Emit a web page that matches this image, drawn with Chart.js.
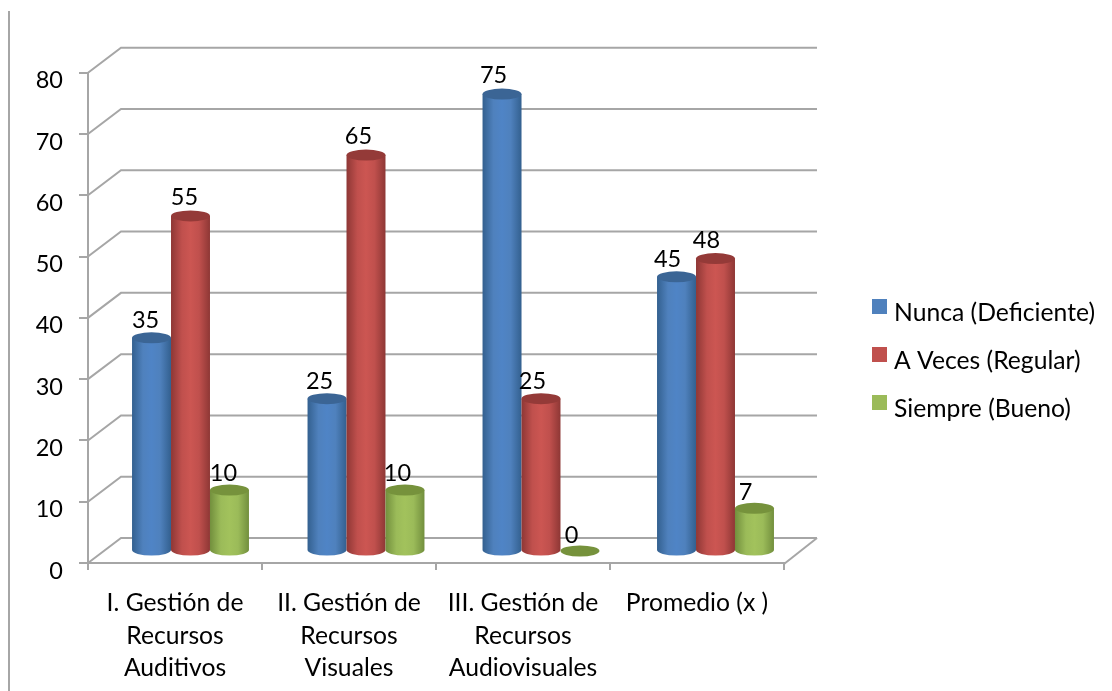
<!DOCTYPE html>
<html>
<head>
<meta charset="utf-8">
<title>Gestión de Recursos</title>
<script src="https://cdn.jsdelivr.net/npm/chart.js@4/dist/chart.umd.js"></script>
<style>
  html, body { margin: 0; padding: 0; background: #fff; }
  canvas { display: block; }
</style>
</head>
<body>
<canvas id="barChart" width="1112" height="691"></canvas>
<script>
const categories = [
  ["I. Gestión de", "Recursos", "Auditivos"],
  ["II. Gestión de", "Recursos", "Visuales"],
  ["III. Gestión de", "Recursos", "Audiovisuales"],
  "Promedio (x )",
];
const seriesNames = ["Nunca (Deficiente)", "A Veces (Regular)", "Siempre (Bueno)"];
const nunca = [35, 25, 75, 45];
const aVeces = [55, 65, 25, 48];
const siempre = [10, 10, 0, 7];

// front, light and dark tones for each series
const mainColors = ["#4F81BD", "#C0504D", "#9BBB59"];
const lightColors = ["#4F84C6", "#CC5652", "#A2C25C"];
const edgeColors = ["#33608F", "#8E3735", "#728F3D"];
const topColors = ["#3B6595", "#943A38", "#76923C"];

const fontFamily = "Lato, sans-serif";
const textSize = 24.7;
const numberSize = 23.5;
const gridColor = "#A6A6A6";
const depthX = 33; // offset of the back wall
const depthY = -25;
// the picture has a little perspective, groups drift right a bit
const groupShift = [15.5, 17, 18, 18.5];

// back wall and floor lines, tied to the y scale ticks
const wallPlugin = {
  id: "wall",
  beforeDatasetsDraw(chart) {
    const { ctx, scales } = chart;
    const y = scales.y;
    const left = scales.x.left;
    const right = scales.x.right;
    ctx.save();
    ctx.strokeStyle = gridColor;
    ctx.lineWidth = 2;
    y.ticks.forEach((t) => {
      const py = y.getPixelForValue(t.value);
      ctx.beginPath();
      ctx.moveTo(left, py);
      ctx.lineTo(left + depthX, py + depthY);
      ctx.lineTo(right + depthX, py + depthY);
      ctx.stroke();
    });
    // right edge of the floor
    const floor = y.getPixelForValue(0);
    ctx.beginPath();
    ctx.moveTo(right, floor + 1);
    ctx.lineTo(right + depthX, floor + depthY);
    ctx.stroke();
    // stray frame line at the left of the page
    ctx.beginPath();
    ctx.moveTo(9, 11);
    ctx.lineTo(9, 691);
    ctx.stroke();
    ctx.restore();
  },
};

function drawCylinder(ctx, bar, i, col) {
  const rx = bar.width / 2;
  const ry = 5.5;
  const cx = bar.x + groupShift[col];
  const baseY = bar.base - 12;
  const topY = baseY + (bar.y - bar.base) * 0.994;

  if (bar.base - bar.y > 0.5) {
    const grad = ctx.createLinearGradient(cx - rx, 0, cx + rx, 0);
    grad.addColorStop(0, edgeColors[i]);
    grad.addColorStop(0.28, mainColors[i]);
    grad.addColorStop(0.5, lightColors[i]);
    grad.addColorStop(0.72, mainColors[i]);
    grad.addColorStop(1, edgeColors[i]);
    ctx.fillStyle = grad;
    ctx.beginPath();
    ctx.moveTo(cx - rx, topY);
    ctx.lineTo(cx - rx, baseY);
    ctx.ellipse(cx, baseY, rx, ry, 0, Math.PI, 0, true);
    ctx.lineTo(cx + rx, topY);
    ctx.closePath();
    ctx.fill();
  }
  ctx.fillStyle = topColors[i];
  ctx.beginPath();
  ctx.ellipse(cx, topY, rx, ry, 0, 0, Math.PI * 2);
  ctx.fill();
}

// the bars get their place from the library, here they are painted as cylinders
const cylinderPlugin = {
  id: "cylinder",
  beforeDatasetsDraw(chart) {
    const { ctx } = chart;
    const metas = chart.data.datasets.map((d, i) => chart.getDatasetMeta(i));
    categories.forEach((c, col) => {
      metas.forEach((meta, i) => drawCylinder(ctx, meta.data[col], i, col));
    });
    ctx.save();
    ctx.fillStyle = "#000";
    ctx.font = numberSize + "px " + fontFamily;
    ctx.textAlign = "center";
    ctx.textBaseline = "middle";
    metas.forEach((meta, i) => {
      meta.data.forEach((bar, col) => {
        ctx.fillText(chart.data.datasets[i].data[col], bar.x + 9.5, bar.y - 28);
      });
    });
    ctx.restore();
    return false; // the flat bars are not wanted
  },
};

const legendPlugin = {
  id: "sideLegend",
  afterDraw(chart) {
    const { ctx } = chart;
    ctx.save();
    ctx.font = textSize + "px " + fontFamily;
    ctx.textBaseline = "middle";
    ctx.textAlign = "left";
    const rows = [313, 361, 409];
    chart.data.datasets.forEach((d, i) => {
      ctx.fillStyle = d.backgroundColor;
      ctx.fillRect(872, rows[i] - 14, 15, 15);
      ctx.fillStyle = "#000";
      ctx.fillText(d.label, 894, rows[i]);
    });
    ctx.restore();
  },
};

const ctx = document.getElementById("barChart").getContext("2d");
new Chart(ctx, {
  type: "bar",
  data: {
    labels: categories,
    datasets: [
      { label: seriesNames[0], data: nunca, backgroundColor: mainColors[0] },
      { label: seriesNames[1], data: aVeces, backgroundColor: mainColors[1] },
      { label: seriesNames[2], data: siempre, backgroundColor: mainColors[2] },
    ],
  },
  options: {
    responsive: false,
    animation: false,
    layout: { padding: { top: 72.7, right: 328, left: 0, bottom: 0 } },
    categoryPercentage: 0.672,
    barPercentage: 1,
    plugins: { legend: { display: false }, tooltip: { enabled: false } },
    scales: {
      x: {
        afterFit(scale) { scale.height = 128; },
        grid: {
          offset: true,
          drawOnChartArea: false,
          color: gridColor,
          lineWidth: 2,
          tickLength: 7,
        },
        border: { color: gridColor, width: 2 },
        ticks: {
          color: "#000",
          autoSkip: false,
          maxRotation: 0,
          padding: 17,
          font: { family: fontFamily, size: textSize, lineHeight: 1.316 },
        },
      },
      y: {
        min: 0,
        max: 80,
        afterFit(scale) { scale.width = 88; },
        grid: {
          drawOnChartArea: false,
          color: gridColor,
          lineWidth: 2,
          tickLength: 9,
        },
        border: { color: gridColor, width: 2 },
        ticks: {
          stepSize: 10,
          color: "#000",
          padding: 16,
          labelOffset: 8,
          font: { family: fontFamily, size: numberSize },
        },
      },
    },
  },
  plugins: [wallPlugin, cylinderPlugin, legendPlugin],
});
</script>
</body>
</html>
